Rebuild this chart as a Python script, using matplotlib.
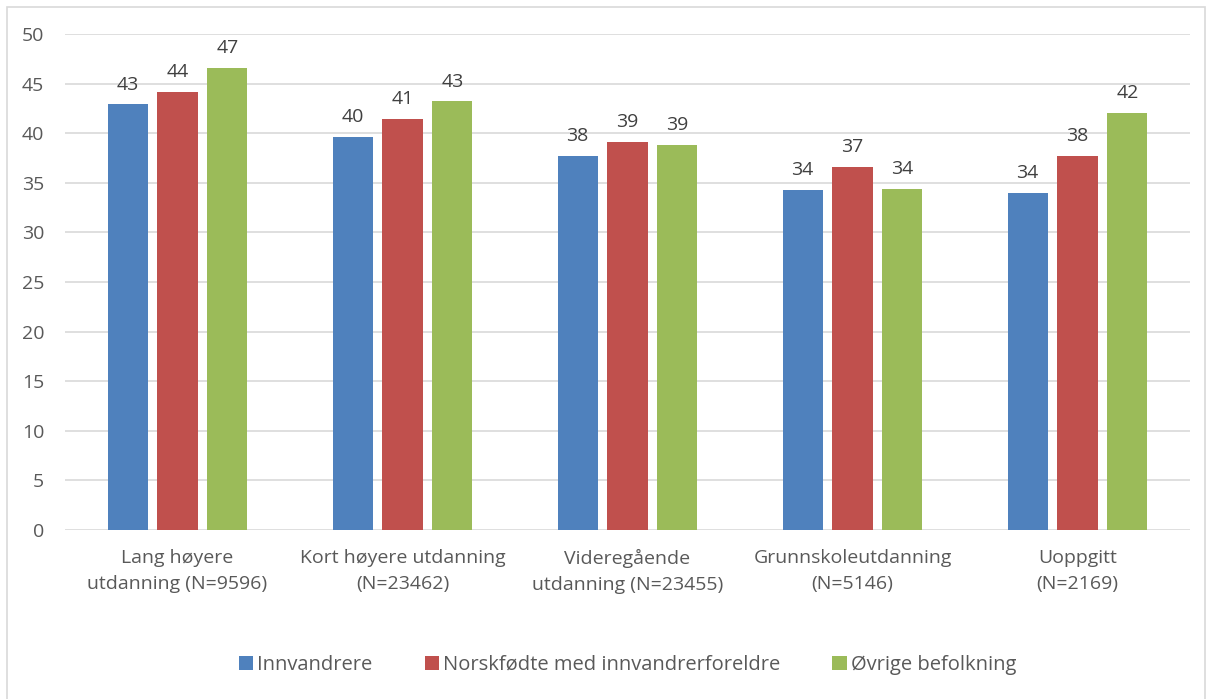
import matplotlib.pyplot as plt
import matplotlib.patches as mpatches
import numpy as np

categories = ["Lang høyere\nutdanning (N=9596)", "Kort høyere utdanning\n(N=23462)",
              "Videregående\nutdanning (N=23455)", "Grunnskoleutdanning\n(N=5146)",
              "Uoppgitt\n(N=2169)"]
series_names = ["Innvandrere", "Norskfødte med innvandrerforeldre", "Øvrige befolkning"]
innvandrere = [42.9, 39.6, 37.7, 34.3, 34.0]
norskfodte = [44.2, 41.4, 39.1, 36.6, 37.7]
ovrige = [46.6, 43.2, 38.8, 34.4, 42.0]
colors = ["#4F81BD", "#C0504D", "#9BBB59"]

plt.rcParams['font.family'] = ['Open Sans', 'DejaVu Sans']

fig = plt.figure(figsize=(12.12, 6.99), dpi=100)
ax = fig.add_axes([65/1212, 1-530/699, 1125/1212, 496/699])

# chart border
fig.patches.append(mpatches.Rectangle((7/1212, -0.01), 1198/1212, 1-7/699+0.01,
                                      transform=fig.transFigure, fill=False,
                                      edgecolor="#D9D9D9", linewidth=1.2))

x = np.arange(len(categories))
w = 0.178
step = 0.222
for i, (vals, c, name) in enumerate(zip([innvandrere, norskfodte, ovrige], colors, series_names)):
    bars = ax.bar(x + (i-1)*step, vals, width=w, color=c, label=name, zorder=3)
    for b, v in zip(bars, vals):
        ax.text(b.get_x()+b.get_width()/2, v+1.1, str(int(round(v))),
                ha='center', va='bottom', fontsize=14, color="#404040")

ax.set_ylim(0, 50)
ax.set_xlim(-0.5, len(categories)-0.5)
ax.set_yticks(range(0, 51, 5))
ax.yaxis.grid(True, color="#D9D9D9", linewidth=1.2, zorder=0)
for s in ax.spines.values():
    s.set_visible(False)
ax.tick_params(axis='both', length=0, labelsize=14, colors="#595959")
ax.tick_params(axis='y', pad=15)
ax.set_xticks(x)
ax.set_xticklabels(categories, fontsize=14, color="#595959", linespacing=1.55)
ax.tick_params(axis='x', pad=14)

ax.legend(loc='center', bbox_to_anchor=(0.5, (1-665/699 - (1-530/699))/(496/699)),
          ncol=3, frameon=False, fontsize=14.5, handlelength=0.7, handleheight=0.7,
          handletextpad=0.2, columnspacing=2.6, labelcolor="#595959")

fig.savefig("out.png", dpi=100)
